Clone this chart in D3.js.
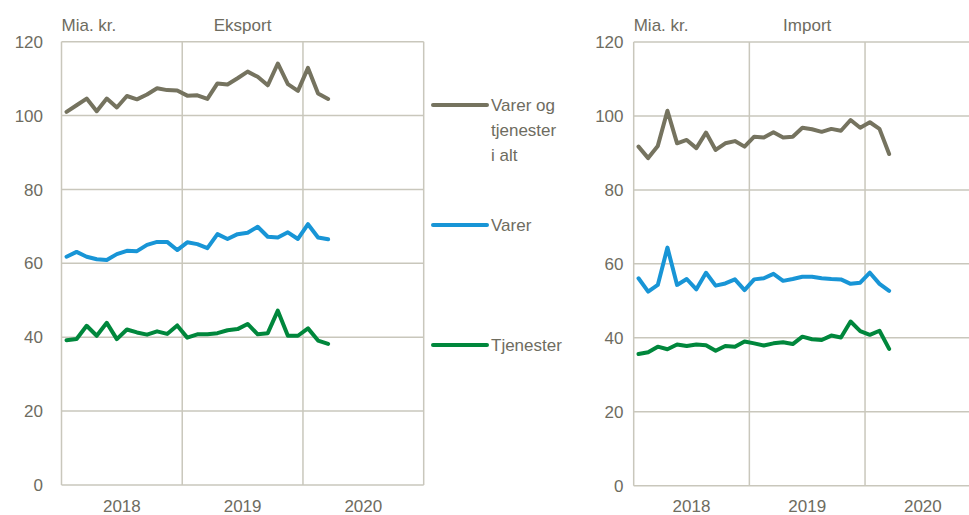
<!DOCTYPE html>
<html>
<head>
<meta charset="utf-8">
<script src="https://cdn.jsdelivr.net/npm/d3@7"></script>
<style>
	body { margin: 0; background: #fff; }
	text { font-family: "Liberation Sans", Arial, sans-serif; font-size: 17px; fill: #6e6c5f; }
</style>
</head>
<body>
<div class="chart"></div>
<script>
// monthly values, Jan 2018 - Mar 2020 (Mia. kr.)
var years = ["2018", "2019", "2020"];
var yTicks = [0, 20, 40, 60, 80, 100, 120];

var eksportTotal = [101.0, 102.8, 104.6, 101.2, 104.6, 102.2, 105.3, 104.4, 105.7, 107.4, 106.9, 106.8,
	105.4, 105.5, 104.5, 108.7, 108.4, 110.1, 111.9, 110.5, 108.2, 114.1, 108.5, 106.7, 112.9, 106.0, 104.5];
var eksportVarer = [61.8, 63.1, 61.8, 61.1, 60.9, 62.5, 63.4, 63.3, 65.0, 65.8, 65.8, 63.6,
	65.7, 65.2, 64.1, 67.9, 66.6, 67.9, 68.3, 69.9, 67.2, 67.0, 68.4, 66.6, 70.6, 67.0, 66.5];
var eksportTjenester = [39.2, 39.5, 43.1, 40.4, 43.9, 39.5, 42.1, 41.3, 40.7, 41.6, 40.9, 43.2,
	39.9, 40.8, 40.8, 41.1, 41.9, 42.2, 43.6, 40.8, 41.1, 47.2, 40.4, 40.4, 42.4, 39.1, 38.2];

var importTotal = [91.7, 88.6, 91.9, 101.4, 92.6, 93.5, 91.3, 95.5, 90.8, 92.6, 93.2, 91.7,
	94.4, 94.2, 95.6, 94.2, 94.4, 96.8, 96.4, 95.7, 96.5, 96.0, 98.9, 96.8, 98.3, 96.5, 89.7];
var importVarer = [56.1, 52.5, 54.3, 64.4, 54.3, 55.9, 53.1, 57.6, 54.1, 54.7, 55.8, 52.9,
	55.8, 56.1, 57.3, 55.4, 55.9, 56.5, 56.5, 56.1, 55.9, 55.8, 54.6, 54.9, 57.6, 54.6, 52.7];
var importTjenester = [35.6, 36.1, 37.6, 36.9, 38.2, 37.8, 38.2, 38.0, 36.5, 37.8, 37.6, 39.0,
	38.5, 37.9, 38.5, 38.8, 38.3, 40.3, 39.6, 39.4, 40.6, 40.1, 44.4, 41.8, 40.8, 41.9, 37.0];

var seriesNames = ["Varer og tjenester i alt", "Varer", "Tjenester"];
var seriesColors = ["#75735f", "#1895d6", "#00873c"];

var svg = d3.select(".chart").append("svg")
	.attr("width", 969)
	.attr("height", 515);

var panels = [
	{ title: "Eksport", left: 61.5, right: 423.7, top: 41.7, bottom: 485, labelX: 43,
		series: [eksportTotal, eksportVarer, eksportTjenester] },
	{ title: "Import", left: 633.7, right: 980.7, top: 42, bottom: 485.7, labelX: 623.5,
		series: [importTotal, importVarer, importTjenester] }
];

panels.forEach(function (p) {
	var x = d3.scaleLinear().domain([0, years.length * 12]).range([p.left, p.right]);
	var y = d3.scaleLinear().domain([0, 120]).range([p.bottom, p.top]);

	var g = svg.append("g");

	// horizontal gridlines
	g.selectAll(".hgrid")
		.data(yTicks)
		.enter().append("line")
		.attr("x1", p.left)
		.attr("x2", p.right)
		.attr("y1", function (d) { return y(d); })
		.attr("y2", function (d) { return y(d); })
		.attr("stroke", "#c9c7bc")
		.attr("stroke-width", 1.5);

	// year gridlines
	g.selectAll(".vgrid")
		.data(d3.range(years.length + 1))
		.enter().append("line")
		.attr("x1", function (d) { return x(d * 12); })
		.attr("x2", function (d) { return x(d * 12); })
		.attr("y1", p.top)
		.attr("y2", p.bottom)
		.attr("stroke", "#c9c7bc")
		.attr("stroke-width", 1.5);

	g.selectAll(".ylabel")
		.data(yTicks)
		.enter().append("text")
		.attr("x", p.labelX)
		.attr("y", function (d) { return y(d); })
		.attr("dy", "0.36em")
		.style("text-anchor", "end")
		.text(function (d) { return d; });

	g.selectAll(".xlabel")
		.data(years)
		.enter().append("text")
		.attr("x", function (d, i) { return x(i * 12 + 6); })
		.attr("y", 512)
		.style("text-anchor", "middle")
		.text(function (d) { return d; });

	g.append("text")
		.attr("x", p.left)
		.attr("y", 31)
		.text("Mia. kr.");

	g.append("text")
		.attr("x", (p.left + p.right) / 2)
		.attr("y", 31)
		.style("text-anchor", "middle")
		.text(p.title);

	var line = d3.line()
		.x(function (d, i) { return x(i + 0.5); })
		.y(function (d) { return y(d); });

	p.series.forEach(function (s, k) {
		g.append("path")
			.datum(s)
			.attr("d", line)
			.attr("fill", "none")
			.attr("stroke", seriesColors[k])
			.attr("stroke-width", 4)
			.attr("stroke-linejoin", "round")
			.attr("stroke-linecap", "round");
	});
});

// legend
var legendRows = [
	{ y: 105, lines: ["Varer og", "tjenester", "i alt"] },
	{ y: 225, lines: ["Varer"] },
	{ y: 345, lines: ["Tjenester"] }
];

var legend = svg.selectAll(".legend")
	.data(legendRows)
	.enter().append("g")
	.attr("transform", function (d) { return "translate(433," + d.y + ")"; });

legend.append("line")
	.attr("x1", 0)
	.attr("x2", 54)
	.attr("stroke", function (d, i) { return seriesColors[i]; })
	.attr("stroke-width", 4)
	.attr("stroke-linecap", "round");

legend.append("text")
	.attr("x", 58)
	.attr("y", 6)
	.selectAll("tspan")
	.data(function (d) { return d.lines; })
	.enter().append("tspan")
	.attr("x", 58)
	.attr("dy", function (d, i) { return i === 0 ? 0 : 25; })
	.text(function (d) { return d; });
</script>
</body>
</html>
